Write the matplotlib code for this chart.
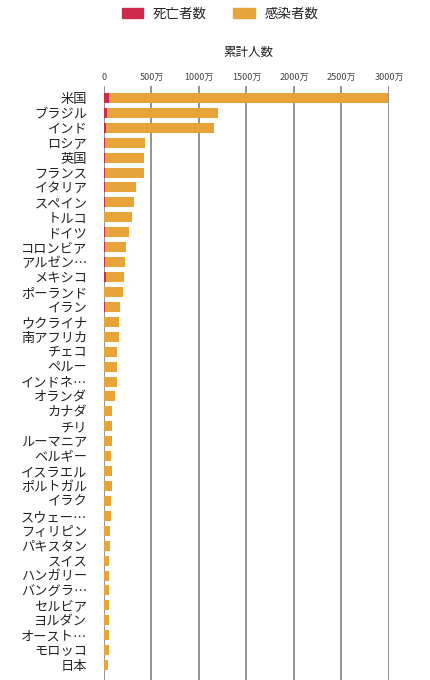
# COVID-19 cumulative cases / deaths by country (horizontal stacked bars)

import matplotlib
matplotlib.use("Agg")
import matplotlib.pyplot as plt
from matplotlib.patches import Patch

plt.rcParams['font.family'] = ['Noto Sans CJK JP', 'DejaVu Sans']

# Data (unit: 万人)
countries = ['米国', 'ブラジル', 'インド', 'ロシア', '英国', 'フランス', 'イタリア', 'スペイン',
             'トルコ', 'ドイツ', 'コロンビア', 'アルゼン…', 'メキシコ', 'ポーランド', 'イラン',
             'ウクライナ', '南アフリカ', 'チェコ', 'ペルー', 'インドネ…', 'オランダ', 'カナダ',
             'チリ', 'ルーマニア', 'ベルギー', 'イスラエル', 'ポルトガル', 'イラク', 'スウェー…',
             'フィリピン', 'パキスタン', 'スイス', 'ハンガリー', 'バングラ…', 'セルビア', 'ヨルダン',
             'オースト…', 'モロッコ', '日本']
deaths = [53, 29, 16, 9, 12.5, 9, 10.3, 7.2, 3, 7.4, 6, 5.4, 19.5, 4.8, 6.1, 3, 5.1, 2.3, 4.8,
          3.9, 1.6, 2.2, 2.2, 2.1, 2.2, 0.6, 1.7, 1.4, 1.3, 1.3, 1.4, 0.9, 1.8, 0.85, 0.45,
          0.55, 0.9, 0.88, 0.87]
cases = [2940, 1168, 1145, 426, 412, 412, 323, 309, 292, 253, 222, 213, 195, 195, 166, 152,
         148, 138, 135, 136, 114, 87, 86, 83, 76, 80, 80, 69, 70, 61, 59, 56, 53, 55, 51, 50,
         49, 48, 44]

col_death = '#CE2A4F'
col_case = '#E6A43A'

fig = plt.figure(figsize=(4.31, 6.80), dpi=100)
ax = fig.add_axes([104/431, 0, (389-104)/431, (680-86)/680])

y = list(range(len(countries)))
ax.barh(y, deaths, height=0.67, color=col_death, zorder=3)
ax.barh(y, cases, left=deaths, height=0.67, color=col_case, zorder=3)

ax.set_xlim(0, 3000)
ax.set_ylim(39.0, -0.8)
ax.set_xticks([0, 500, 1000, 1500, 2000, 2500, 3000])
ax.set_xticklabels(['0', '500万', '1000万', '1500万', '2000万', '2500万', '3000万'])
ax.xaxis.tick_top()
ax.tick_params(axis='x', length=0, pad=3, labelsize=6.5, labelcolor='#444444')
ax.set_yticks(y)
ax.set_yticklabels(countries)
ax.tick_params(axis='y', length=0, pad=12, labelsize=9.5, labelcolor='#222222')
ax.grid(axis='x', color='#8a8a8a', lw=1.3, zorder=0)
for s in ax.spines.values():
    s.set_visible(False)

fig.text(248/431, 1 - 52/680, '累計人数', ha='center', va='center', fontsize=9, color='#222222')

handles = [Patch(color=col_death, label='死亡者数'), Patch(color=col_case, label='感染者数')]
fig.legend(handles=handles, loc='center', bbox_to_anchor=(220/431, 1 - 14/680), ncol=2,
           frameon=False, fontsize=9.7, handlelength=1.6, handleheight=0.8,
           columnspacing=2.0, handletextpad=0.7, labelcolor='#222222')

fig.savefig('out.png', dpi=100)
